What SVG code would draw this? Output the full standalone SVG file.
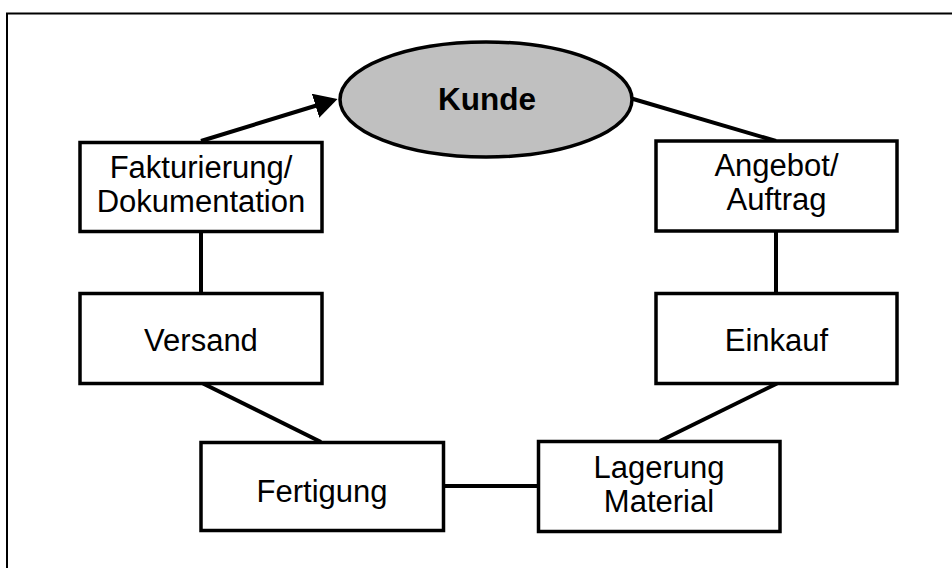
<svg xmlns="http://www.w3.org/2000/svg" width="952" height="568" viewBox="0 0 952 568">
  <style>
    .box { fill: #ffffff; stroke: #000000; stroke-width: 3.5; }
    .lbl { font-family: "Liberation Sans", Arial, sans-serif; font-size: 31px; fill: #000000; text-anchor: middle; }
    .bold { font-weight: bold; font-size: 31.5px; }
    .con { stroke: #000000; stroke-width: 4; fill: none; }
  </style>
  <defs>
    <marker id="arrow" viewBox="0 0 23 25" refX="1" refY="12.5" markerWidth="23" markerHeight="25" markerUnits="userSpaceOnUse" orient="auto">
      <path d="M0,0 L23,12.5 L0,25 z" fill="#000000"/>
    </marker>
  </defs>
  <rect x="0" y="0" width="952" height="568" fill="#ffffff"/>
  <path d="M7,568 V13.5 H952" fill="none" stroke="#000000" stroke-width="2"/>

  <g id="connectors">
    <line class="con" x1="201" y1="141" x2="316.5" y2="105.5" marker-end="url(#arrow)"/>
    <line class="con" x1="631.5" y1="98.5" x2="776" y2="141"/>
    <line class="con" x1="201" y1="232" x2="201" y2="293"/>
    <line class="con" x1="776" y1="231" x2="776" y2="293"/>
    <line class="con" x1="203" y1="383.5" x2="321" y2="442"/>
    <line class="con" x1="777" y1="383.5" x2="660" y2="441"/>
    <line class="con" x1="443" y1="486" x2="538" y2="486"/>
  </g>

  <g id="kunde">
    <ellipse cx="486" cy="99.5" rx="146" ry="57.5" fill="#c0c0c0" stroke="#000000" stroke-width="3.5"/>
    <text class="lbl bold" x="487" y="109.5">Kunde</text>
  </g>

  <g id="fakturierung">
    <rect class="box" x="80" y="142.5" width="242" height="89"/>
    <text class="lbl" x="201" y="177.5">Fakturierung/</text>
    <text class="lbl" x="201" y="211.5">Dokumentation</text>
  </g>

  <g id="versand">
    <rect class="box" x="80" y="293.5" width="242" height="90"/>
    <text class="lbl" x="201" y="350.5">Versand</text>
  </g>

  <g id="fertigung">
    <rect class="box" x="201" y="442.5" width="242.5" height="88"/>
    <text class="lbl" x="322" y="501.5">Fertigung</text>
  </g>

  <g id="lagerung">
    <rect class="box" x="538.5" y="441.5" width="241.5" height="90"/>
    <text class="lbl" x="659" y="477.5">Lagerung</text>
    <text class="lbl" x="659" y="511.5">Material</text>
  </g>

  <g id="einkauf">
    <rect class="box" x="656" y="293.5" width="241" height="90"/>
    <text class="lbl" x="776.5" y="350.5">Einkauf</text>
  </g>

  <g id="angebot">
    <rect class="box" x="656" y="141" width="241" height="90"/>
    <text class="lbl" x="776.5" y="176">Angebot/</text>
    <text class="lbl" x="776.5" y="210">Auftrag</text>
  </g>
</svg>
